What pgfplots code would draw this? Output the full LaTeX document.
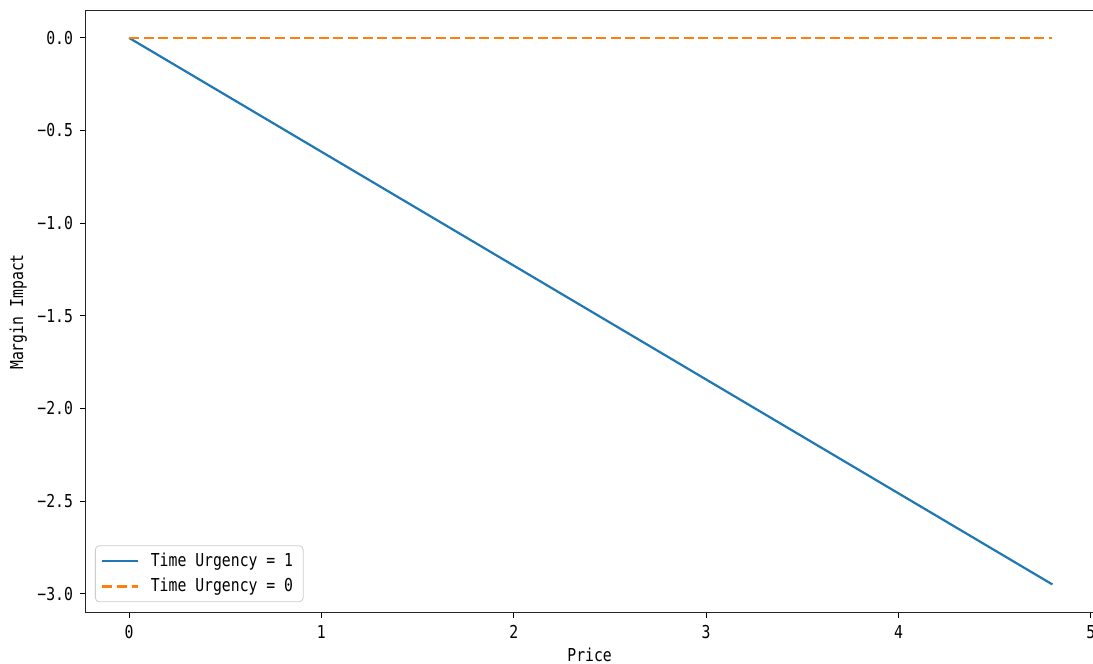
\documentclass[border=0pt]{standalone}
\usepackage{fontspec}
\setmainfont[FakeStretch=0.83]{DejaVu Sans Mono}
\usepackage{pgfplots}
\pgfplotsset{compat=1.18}
\definecolor{tabblue}{HTML}{1F77B4}
\definecolor{taborange}{HTML}{FF7F0E}
\begin{document}
\begin{tikzpicture}
\begin{axis}[
  at={(42.5pt,25.5pt)}, anchor=south west,
  scale only axis, width=508pt, height=301pt,
  xmin=-0.229, xmax=5.0526, ymin=-3.104, ymax=0.145,
  xtick={0,1,2,3,4,5}, xticklabels={0,1,2,3,4,5},
  ytick={-3,-2.5,-2,-1.5,-1,-0.5,0},
  yticklabels={−3.0,−2.5,−2.0,−1.5,−1.0,−0.5,0.0},
  xtick pos=bottom, ytick pos=left, tick align=outside,
  major tick length=2.5pt,
  every tick/.style={black, line width=0.45pt},
  axis line style={black!85, line width=0.5pt},
  tick label style={font=\fontsize{8.9}{10}\selectfont},
  label style={font=\fontsize{8.9}{10}\selectfont},
  xlabel={Price}, ylabel={Margin Impact},
  xlabel style={at={(axis description cs:0.4967,-0.0698)}, anchor=center},
  ylabel style={at={(axis description cs:-0.0658,0.5)}, anchor=center},
  legend style={at={(axis description cs:0.0098,0.018)}, anchor=south west,
    draw=black!20, rounded corners=2pt, fill=white, fill opacity=0.8, text opacity=1,
    font=\fontsize{8.9}{10}\selectfont, inner xsep=3pt, inner ysep=1.5pt,
    row sep=0.5pt, /tikz/every odd column/.style={column sep=4pt}},
  legend cell align=left,
  legend image code/.code={\draw[#1] (0cm,0cm) -- (0.62cm,0cm);},
]
\addplot[tabblue, line width=1.1pt] coordinates {
  (0,0) (1,-0.6146) (2,-1.2292) (3,-1.8438) (4,-2.4583) (4.8,-2.95)
};
\addlegendentry{Time Urgency = 1}
\addplot[taborange, line width=1.1pt, dash pattern=on 5pt off 2.3pt] coordinates {
  (0,0) (1,0) (2,0) (3,0) (4,0) (4.8,0)
};
\addlegendentry{Time Urgency = 0}
\end{axis}
\pgfresetboundingbox
\path[use as bounding box] (0pt,0pt) rectangle (546.5pt,332pt);
\end{tikzpicture}
\end{document}
